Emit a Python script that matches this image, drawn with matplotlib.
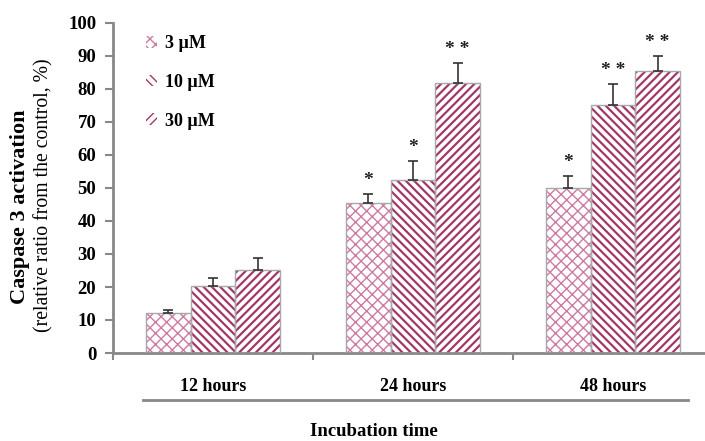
import matplotlib.pyplot as plt
import numpy as np
from matplotlib.lines import Line2D

plt.rcParams['font.family'] = ['Liberation Serif', 'DejaVu Serif']

# data
times = ['12 hours', '24 hours', '48 hours']
doses = ['3 µM', '10 µM', '30 µM']
act_3 = [12.0, 45.5, 50.0]
act_10 = [20.3, 52.5, 75.2]
act_30 = [25.2, 81.9, 85.4]
err_3 = [1.1, 2.6, 3.7]
err_10 = [2.5, 5.7, 6.3]
err_30 = [3.6, 5.9, 4.7]
stars_3 = ['', '*', '*']
stars_10 = ['', '*', '**']
stars_30 = ['', '**', '**']

W, H = 705, 441
fig = plt.figure(figsize=(W / 100, H / 100), dpi=100)
ax = fig.add_axes([113 / W, 1 - 353 / H, 600 / W, 330 / H])

maroon = '#a23868'
pink = '#cc7aa2'
edge = '#a8a8a8'

x = np.arange(len(times)) + 0.5
bw = 0.223
series = [
    (act_3, err_3, stars_3, '///\\\\\\', pink, -bw, 1.0),
    (act_10, err_10, stars_10, '\\\\\\\\', maroon, 0, 1.6),
    (act_30, err_30, stars_30, '////', maroon, bw, 1.6),
]
handles = []
for (vals, errs, stars, hatch, hc, off, hlw), lab in zip(series, doses):
    with plt.rc_context({'hatch.linewidth': hlw}):
        bars = ax.bar(x + off, vals, bw, color='white', edgecolor=hc, hatch=hatch,
                      linewidth=0, label=lab, zorder=2)
    ax.bar(x + off, vals, bw, color='none', edgecolor=edge, linewidth=1.0, zorder=3)
    ax.errorbar(x + off, vals, yerr=[np.zeros(len(errs)), errs], fmt='none',
                ecolor='#333333', elinewidth=1.2, capsize=3.5, capthick=1.2, zorder=4)
    for xi, v, e, s in zip(x + off, vals, errs, stars):
        if s:
            ax.text(xi, v + e + 1.5, ' '.join(s), ha='center', va='bottom',
                    fontsize=14, fontweight='bold', color='#222222')
    handles.append(bars[0])

ax.set_xlim(0, 3)
ax.set_ylim(0, 100)
ax.set_yticks(range(0, 101, 10))
for lbl in ax.get_yticklabels():
    lbl.set_fontweight('bold')
ax.tick_params(axis='y', direction='out', length=6, width=1.5, color='#888888',
               labelsize=13.5, pad=6)
ax.set_xticks([0, 1, 2, 3])
ax.set_xticklabels([])
ax.tick_params(axis='x', which='major', direction='out', length=5, width=1.5,
               color='#888888')
ax.set_xticks(x, minor=True)
ax.set_xticklabels(times, minor=True, fontsize=13, fontweight='bold')
ax.tick_params(axis='x', which='minor', length=0, pad=18)

for side in ['top', 'right']:
    ax.spines[side].set_visible(False)
for side in ['left', 'bottom']:
    ax.spines[side].set_color('#888888')
    ax.spines[side].set_linewidth(2)

leg = ax.legend(handles=handles, labels=doses, loc='upper left',
                bbox_to_anchor=(17 / 600, 1 + 4 / 330), frameon=False,
                handlelength=0.6, handleheight=0.6, handletextpad=0.45,
                labelspacing=1.2, prop={'weight': 'bold', 'size': 13})

fig.text(20 / W, 1 - 207 / H, 'Caspase 3 activation', rotation=90, ha='center',
         va='center', fontsize=16, fontweight='bold')
fig.text(44 / W, 1 - 195 / H, '(relative ratio from the control, %)', rotation=90,
         ha='center', va='center', fontsize=14.2)
fig.add_artist(Line2D([143 / W, 688 / W], [1 - 400 / H, 1 - 400 / H],
                      color='#888888', linewidth=2, transform=fig.transFigure))
fig.text(374 / W, 1 - 432 / H, 'Incubation time', ha='center', va='center',
         fontsize=13.5, fontweight='bold')

fig.savefig('out.png', dpi=100)
